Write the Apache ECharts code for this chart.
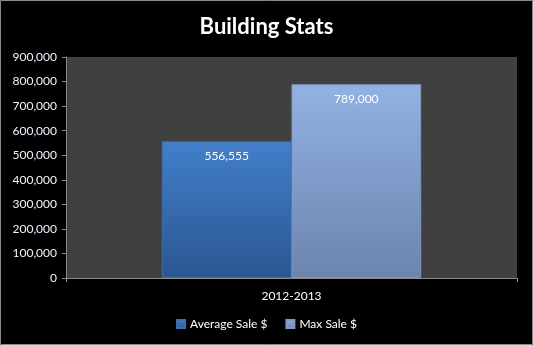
<!DOCTYPE html>
<html><head><meta charset="utf-8">
<script src="https://cdn.jsdelivr.net/npm/echarts@6/dist/echarts.min.js"></script>
<style>html,body{margin:0;padding:0;background:#000;}#c{width:533px;height:345px;}</style>
</head><body><div id="c"></div>
<script>
const categories = ['2012-2013'];
const seriesNames = ['Average Sale $', 'Max Sale $'];
const avgSale = [556555];
const maxSale = [789000];
const yTicks = [0, 100000, 200000, 300000, 400000, 500000, 600000, 700000, 800000, 900000];

const chart = echarts.init(document.getElementById('c'));
const font = 'Lato, "Open Sans", sans-serif';
function grad(a, b) {
  return new echarts.graphic.LinearGradient(0, 0, 0, 1, [{offset: 0, color: a}, {offset: 1, color: b}]);
}
chart.setOption({
  backgroundColor: '#000',
  animation: false,
  graphic: [{type: 'rect', shape: {x: 0.5, y: 0.5, width: 532, height: 344}, style: {fill: 'none', stroke: '#8a8a8a', lineWidth: 1}, silent: true}],
  title: {text: 'Building Stats', left: 'center', top: 11, textStyle: {color: '#fff', fontFamily: font, fontWeight: 'bold', fontSize: 22}},
  grid: {left: 66, right: 16, top: 57, bottom: 67, show: true, backgroundColor: '#404040', borderWidth: 0},
  legend: {bottom: 10, left: 'center', itemWidth: 8, itemHeight: 8, itemGap: 18, icon: 'rect',
    textStyle: {color: '#fff', fontFamily: font, fontSize: 12}, data: seriesNames},
  xAxis: {type: 'category', data: categories,
    axisLine: {lineStyle: {color: '#8a8a8a'}}, axisTick: {show: true, length: 4, lineStyle: {color: '#8a8a8a'}},
    axisLabel: {color: '#fff', fontFamily: font, fontSize: 12, margin: 12}},
  yAxis: {type: 'value', min: 0, max: 900000, interval: 100000,
    axisLine: {show: true, lineStyle: {color: '#8a8a8a'}}, axisTick: {show: true, length: 4, lineStyle: {color: '#8a8a8a'}},
    splitLine: {show: false},
    axisLabel: {color: '#eef4ff', fontFamily: font, fontSize: 12, margin: 9,
      formatter: v => yTicks.includes(v) ? v.toLocaleString('en-US') : ''}},
  series: [
    {name: seriesNames[0], type: 'bar', data: avgSale, barGap: '0%', barCategoryGap: '42.5%',
      itemStyle: {color: grad('#427fcb', '#2a5690'), borderColor: '#3a6fb0', borderWidth: 1},
      label: {show: true, position: 'insideTop', distance: 9, color: '#fff', fontFamily: font, fontSize: 12,
        formatter: p => p.value.toLocaleString('en-US')}},
    {name: seriesNames[1], type: 'bar', data: maxSale,
      itemStyle: {color: grad('#93b1e3', '#6c84ad'), borderColor: '#8099c4', borderWidth: 1},
      label: {show: true, position: 'insideTop', distance: 9, color: '#fff', fontFamily: font, fontSize: 12,
        formatter: p => p.value.toLocaleString('en-US')}}
  ]
});
</script></body></html>
